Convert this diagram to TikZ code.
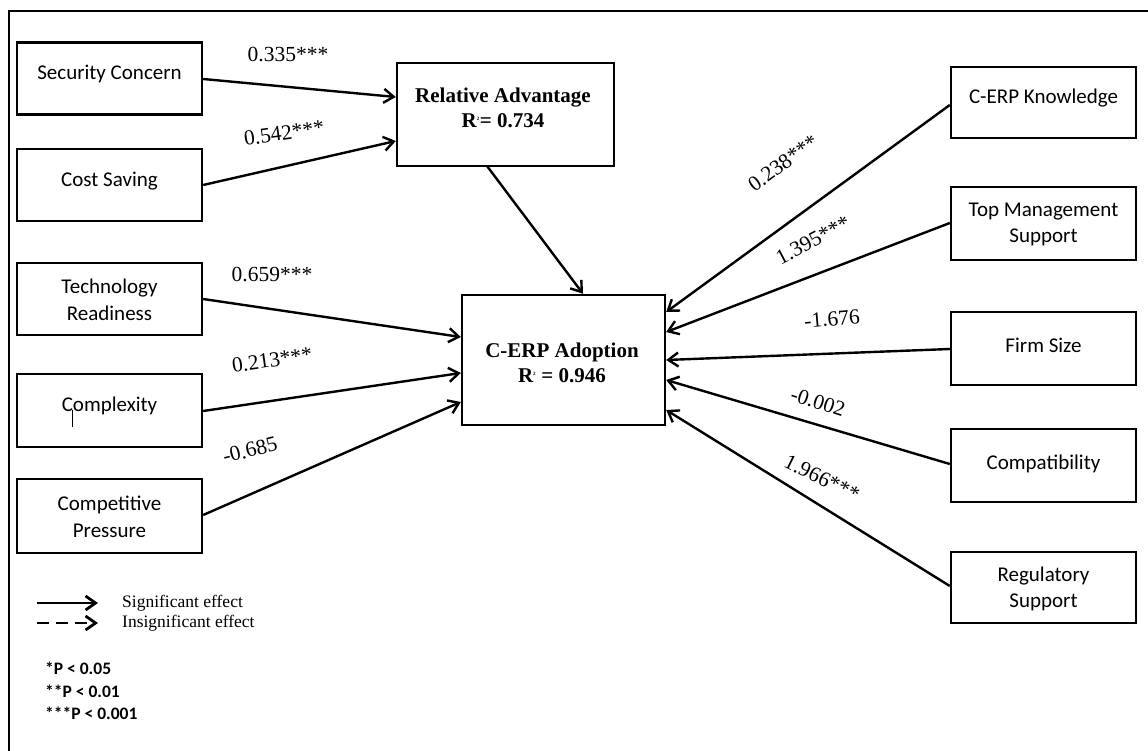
\documentclass[tikz,border=0pt]{standalone}
\usepackage{fontspec}
\setmainfont{Liberation Serif}
\newfontfamily\carl{Carlito}
\usetikzlibrary{arrows.meta}
\begin{document}
\begin{tikzpicture}[x=1pt,y=-1pt,
  box/.style={draw, line width=2.4pt, minimum width=185pt, minimum height=72pt, inner sep=0pt},
  bigbox/.style={draw, line width=2.4pt, inner sep=0pt},
  btext/.style={font=\carl\fontsize{21}{26.5}\selectfont, align=center, inner sep=0pt},
  ttext/.style={font=\bfseries\fontsize{21}{25}\selectfont, align=center, inner sep=0pt},
  coef/.style={font=\fontsize{21.5}{24}\selectfont, inner sep=0pt},
  legtext/.style={font=\fontsize{17.5}{20}\selectfont, inner sep=0pt, anchor=west},
  ptext/.style={font=\carl\bfseries\fontsize{17.5}{19}\selectfont, inner sep=0pt, anchor=west},
  link/.style={line width=2.4pt, -{Straight Barb[length=10pt,width=14pt]}},
  frameline/.style={line width=2.5pt},
]
\useasboundingbox (0,0) rectangle (1148,751);
\fill[white] (0,0) rectangle (1148,751);
% frame
\coordinate (f1) at (9,751);
\coordinate (f2) at (9,11);
\coordinate (f3) at (1148,11);
\draw[frameline] (f1) -- (f2) -- (f3);

% left boxes
\node[box] (sc) at (109.5,78.5) {};
\node[box] (cs) at (109.5,185) {};
\node[box] (tr) at (109.5,299) {};
\node[box, minimum height=73pt] (cx) at (109.5,410.5) {};
\node[box, minimum height=74pt] (cp) at (109.5,516) {};
\node[btext] (sct) at (109.5,74) {Security Concern};
\node[btext] (cst) at (109.5,181) {Cost Saving};
\node[btext] (trt) at (109.5,300) {Technology\\Readiness};
\node[btext] (cxt) at (109.5,406) {Complexity};
\node[btext] (cpt) at (109.5,517) {Competitive\\Pressure};
\coordinate (cur1) at (72,410);
\coordinate (cur2) at (72,427);
\draw[line width=1pt] (cur1) -- (cur2);

% central boxes
\node[bigbox, minimum width=217pt, minimum height=103pt] (ra) at (505.5,114.5) {};
\node[ttext] (rat) at (503,108) {Relative Advantage\\R\textsuperscript{\fontsize{5}{5}\selectfont 2}= 0.734};
\node[bigbox, minimum width=203pt, minimum height=130pt] (ad) at (563.5,360) {};
\node[ttext] (adt) at (562,363) {C-ERP Adoption\\R\textsuperscript{\fontsize{5}{5}\selectfont 2} = 0.946};

% right boxes
\node[box, minimum height=71pt] (kn) at (1043.5,102.5) {};
\node[box, minimum height=73pt] (tm) at (1043.5,223.5) {};
\node[box, minimum height=73pt] (fs) at (1043.5,348.5) {};
\node[box, minimum height=73pt] (co) at (1043.5,465.5) {};
\node[box, minimum height=71pt] (rs) at (1043.5,587.5) {};
\node[btext] (knt) at (1043.5,98) {C-ERP Knowledge};
\node[btext] (tmt) at (1043.5,224.5) {Top Management\\Support};
\node[btext] (fst) at (1043.5,345) {Firm Size};
\node[btext] (cot) at (1043.5,464) {Compatibility};
\node[btext] (rst) at (1043.5,589) {Regulatory\\Support};

% connectors
\draw[link] (sc.east |- 0,79) -- (ra.west |- 0,97);
\draw[link] (cs.east |- 0,185) -- (ra.west |- 0,141);
\draw[link] (487,166) -- (ad.north -| 583,0);
\draw[link] (tr.east |- 0,299) -- (ad.west |- 0,337);
\draw[link] (cx.east |- 0,411) -- (ad.west |- 0,373);
\draw[link] (cp.east |- 0,515) -- (ad.west |- 0,402);
\draw[link] (kn.west |- 0,105) -- (ad.east |- 0,312);
\draw[link] (tm.west |- 0,223) -- (ad.east |- 0,332);
\draw[link] (fs.west |- 0,349) -- (ad.east |- 0,360);
\draw[link] (co.west |- 0,464) -- (ad.east |- 0,380);
\draw[link] (rs.west |- 0,586) -- (ad.east |- 0,410);

% coefficients
\node[coef] (c1) at (288,55) {0.335***};
\node[coef, rotate=8] (c2) at (284,133) {0.542***};
\node[coef] (c3) at (272,275) {0.659***};
\node[coef, rotate=8] (c4) at (272,360) {0.213***};
\node[coef, rotate=14] (c5) at (250,450) {-0.685};
\node[coef, rotate=36] (c6) at (783,163) {0.238***};
\node[coef, rotate=28] (c7) at (813,240) {1.395***};
\node[coef, rotate=5] (c8) at (832,319) {-1.676};
\node[coef, rotate=-18] (c9) at (818,402) {-0.002};
\node[coef, rotate=-26] (c10) at (822,478) {1.966***};

% legend
\coordinate (l1a) at (37,603);
\coordinate (l1b) at (98,603);
\coordinate (l2a) at (37,623);
\coordinate (l2b) at (98,623);
\draw[link, line width=2.8pt] (l1a) -- (l1b);
\draw[link, line width=2.8pt, dash pattern=on 12pt off 7pt] (l2a) -- (l2b);
\node[legtext] (lt1) at (122,603) {Significant effect};
\node[legtext] (lt2) at (122,623) {Insignificant effect};
\node[ptext] (p1) at (45,668) {*P < 0.05};
\node[ptext] (p2) at (45,691) {**P < 0.01};
\node[ptext] (p3) at (45,713) {***P < 0.001};
\end{tikzpicture}
\end{document}
